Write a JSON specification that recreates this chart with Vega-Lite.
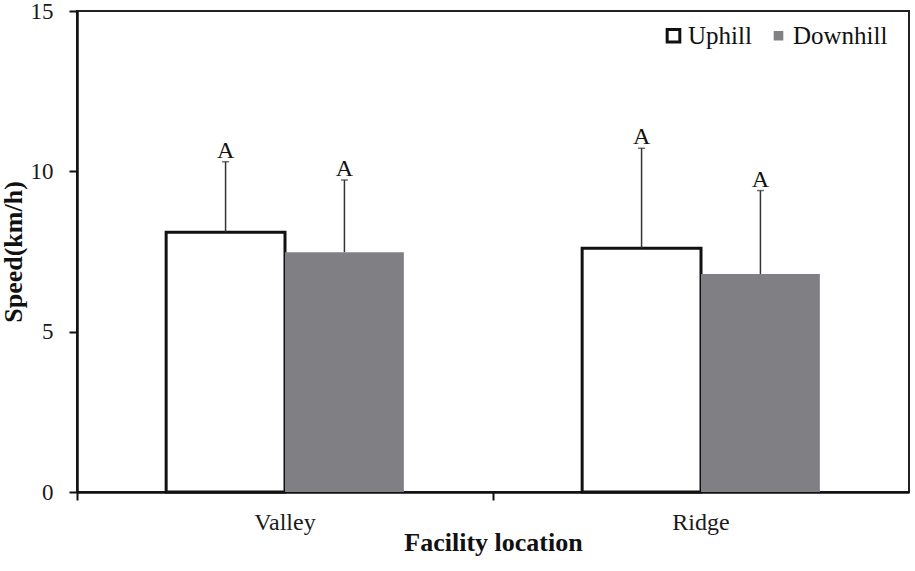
{
  "$schema": "https://vega.github.io/schema/vega-lite/v6.json",
  "width": 832,
  "height": 481,
  "autosize": {"type": "none"},
  "padding": {"left": 77, "top": 11, "right": 6, "bottom": 79},
  "background": "white",
  "config": {
    "font": "Liberation Serif",
    "view": {"stroke": "#222222", "strokeWidth": 2},
    "axis": {"grid": false, "domainColor": "#111111", "domainWidth": 2.5, "tickColor": "#111111", "tickWidth": 2, "labelFont": "Liberation Serif", "titleFont": "Liberation Serif", "labelColor": "#1a1a1a", "titleColor": "#111111"}
  },
  "data": {
    "values": [
      {"location": "Valley", "dir": "Uphill", "speed": 8.1, "hi": 10.3, "sig": "A"},
      {"location": "Valley", "dir": "Downhill", "speed": 7.48, "hi": 9.73, "sig": "A"},
      {"location": "Ridge", "dir": "Uphill", "speed": 7.6, "hi": 10.72, "sig": "A"},
      {"location": "Ridge", "dir": "Downhill", "speed": 6.8, "hi": 9.4, "sig": "A"}
    ]
  },
  "encoding": {
    "x": {
      "field": "location",
      "type": "nominal",
      "sort": ["Valley", "Ridge"],
      "scale": {"paddingInner": 0, "paddingOuter": 0},
      "axis": {"title": "Facility location", "labelAngle": 0, "labelFontSize": 24, "labelPadding": 10, "tickSize": 8, "bandPosition": 0, "titleFontSize": 26, "titleFontWeight": "bold", "titlePadding": -5}
    },
    "xOffset": {"field": "dir", "type": "nominal", "sort": ["Uphill", "Downhill"], "scale": {"paddingInner": 0, "paddingOuter": 0.75}}
  },
  "layer": [
    {
      "mark": {"type": "bar"},
      "encoding": {
        "y": {
          "field": "speed",
          "type": "quantitative",
          "scale": {"domain": [0, 15], "nice": false},
          "axis": {"values": [0, 5, 10, 15], "title": "Speed(km/h)", "labelFontSize": 23, "labelPadding": 16, "tickSize": 8, "titleFontSize": 26, "titleFontWeight": "bold", "titlePadding": 4}
        },
        "fill": {
          "field": "dir",
          "type": "nominal",
          "sort": ["Uphill", "Downhill"],
          "scale": {"domain": ["Uphill", "Downhill"], "range": ["#ffffff", "#808084"]},
          "legend": {"title": null, "orient": "none", "legendX": 584, "legendY": 12, "direction": "horizontal", "symbolType": "square", "symbolSize": 160, "symbolStrokeWidth": 3, "labelFontSize": 25, "labelFont": "Liberation Serif", "labelColor": "#111111", "columnPadding": 14, "labelOffset": 2}
        },
        "stroke": {
          "field": "dir",
          "type": "nominal",
          "sort": ["Uphill", "Downhill"],
          "scale": {"domain": ["Uphill", "Downhill"], "range": ["#111111", "#ffffff"]}
        },
        "strokeWidth": {"condition": {"test": "datum.dir === 'Uphill'", "value": 3}, "value": 0}
      }
    },
    {
      "mark": {"type": "rule", "color": "#333333", "strokeWidth": 1.5},
      "encoding": {
        "y": {"field": "speed", "type": "quantitative"},
        "y2": {"field": "hi"}
      }
    },
    {
      "mark": {"type": "tick", "color": "#333333", "size": 7, "thickness": 1.5},
      "encoding": {
        "y": {"field": "hi", "type": "quantitative"}
      }
    },
    {
      "mark": {"type": "text", "baseline": "alphabetic", "dy": -4, "fontSize": 24, "font": "Liberation Serif", "color": "#111111"},
      "encoding": {
        "y": {"field": "hi", "type": "quantitative"},
        "text": {"field": "sig"}
      }
    }
  ]
}
